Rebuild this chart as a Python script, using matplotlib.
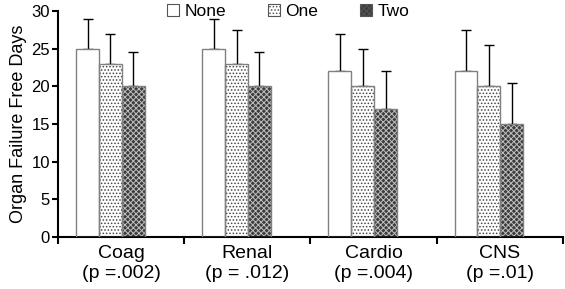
import numpy as np
import matplotlib.pyplot as plt
import matplotlib.patches as mpatches

plt.rcParams['font.family'] = ['Liberation Sans', 'DejaVu Sans']
plt.rcParams['hatch.linewidth'] = 0.7

# data
organs = ['Coag\n(p =.002)', 'Renal\n(p = .012)', 'Cardio\n(p =.004)', 'CNS\n(p =.01)']
groups = ['None', 'One', 'Two']
means_none = [25, 25, 22, 22]
means_one = [23, 23, 20, 20]
means_two = [20, 20, 17, 15]
err_none = [4.0, 4.0, 5.0, 5.5]
err_one = [4.0, 4.5, 5.0, 5.5]
err_two = [4.5, 4.5, 5.0, 5.5]

means = [means_none, means_one, means_two]
errs = [err_none, err_one, err_two]
faces = ['white', 'white', '#3c3c3c']
hatches = [None, '.....', 'xxxxxx']
hatch_cols = ['white', '#444444', '#c0c0c0']

fig = plt.figure(figsize=(5.65, 2.89), dpi=100)
ax = fig.add_axes([0.103, 0.18, 0.893, 0.782])

x = np.arange(len(organs))
w = 0.181
for k in range(3):
    pos = x + 0.414 + (k - 1) * w
    # fill + hatch first, then outline on top
    ax.bar(pos, means[k], w, color=faces[k], hatch=hatches[k],
           edgecolor=hatch_cols[k], linewidth=0, zorder=2)
    ax.bar(pos, means[k], w, fill=False, edgecolor='#808080',
           linewidth=1.0, zorder=3)
    ax.errorbar(pos, means[k], yerr=[np.zeros(4), errs[k]], fmt='none',
                ecolor='black', elinewidth=1.0, capsize=3.5, capthick=1.0,
                zorder=1)

ax.set_xlim(0, 4)
ax.set_ylim(0, 30)
ax.set_yticks(np.arange(0, 31, 5))
ax.set_xticks(np.arange(0, 5))
ax.set_xticklabels([])
ax.set_xticks(x + 0.5, minor=True)
ax.set_xticklabels(organs, minor=True, fontsize=14, linespacing=1.2)
ax.tick_params(axis='x', which='minor', length=0, pad=6)
ax.tick_params(axis='x', which='major', length=5, width=1.5, direction='out')
ax.tick_params(axis='y', length=4, width=1.5, labelsize=12, pad=2)
ax.set_ylabel('Organ Failure Free Days', fontsize=13, labelpad=3)

for s in ['top', 'right']:
    ax.spines[s].set_visible(False)
for s in ['left', 'bottom']:
    ax.spines[s].set_linewidth(1.5)

handles = []
for k in range(3):
    handles.append(mpatches.Patch(facecolor=faces[k], hatch=hatches[k],
                                  edgecolor='#555555', linewidth=0.8,
                                  label=groups[k]))
fig.legend(handles=handles, loc='upper center', bbox_to_anchor=(0.51, 1.04),
           ncol=3, frameon=False, fontsize=12.5, handlelength=0.7,
           handleheight=0.7, handletextpad=0.3, columnspacing=2.4)

fig.savefig('out.png', dpi=100)
